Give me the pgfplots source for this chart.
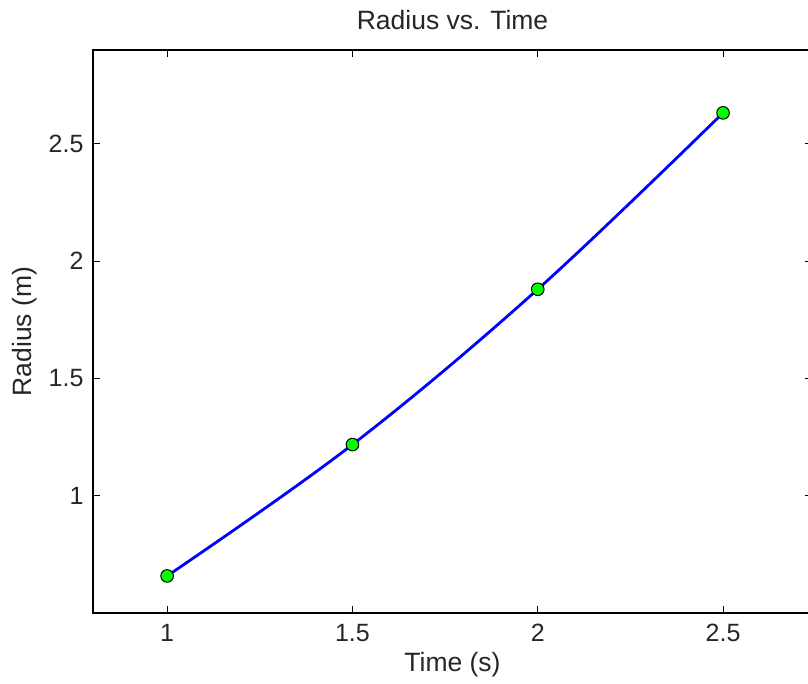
\documentclass[border=0pt]{standalone}
\usepackage{fontspec}
\setmainfont{Liberation Sans}
\usepackage{pgfplots}
\pgfplotsset{compat=1.18}
\begin{document}
\begin{tikzpicture}[x=1pt,y=1pt]
\begin{axis}[
  at={(0,0)}, anchor=south west,
  scale only axis, width=719pt, height=563pt,
  xmin=0.8, xmax=2.74, ymin=0.5, ymax=2.9,
  xtick={1,1.5,2,2.5}, ytick={1,1.5,2,2.5},
  xticklabels={1,1.5,2,2.5}, yticklabels={1,1.5,2,2.5},
  tick align=inside, major tick length=7pt,
  tick style={black, line width=0.9pt},
  axis line style={black, line width=1.2pt},
  ticklabel style={font=\fontsize{25}{28}\selectfont, text=black!85},
  xticklabel style={yshift=-8pt},
  yticklabel style={xshift=-6pt},
  title={Radius vs. Time},
  xlabel={Time (s)}, ylabel={Radius (m)},
  every axis title/.style={at={(axis description cs:0.5,1)}, anchor=center, yshift=30pt, font=\fontsize{26.5}{30}\selectfont, text=black!85},
  every axis x label/.style={at={(axis description cs:0.5,0)}, anchor=center, yshift=-52pt, font=\fontsize{26.5}{30}\selectfont, text=black!85},
  every axis y label/.style={at={(axis description cs:-0.0946,0.5)}, anchor=center, rotate=90, font=\fontsize{26.5}{30}\selectfont, text=black!85},
  clip=false,
]
\addplot[color={rgb,255:red,0;green,0;blue,255}, line width=2.8pt, smooth, tension=0.6,
  mark=*, mark size=6.3pt,
  mark options={fill={rgb,255:red,0;green,255;blue,0}, draw=black, line width=1pt}]
  coordinates {(1,0.658) (1.5,1.218) (2,1.880) (2.5,2.632)};
\end{axis}
\pgfresetboundingbox
\useasboundingbox (-93,-70) rectangle (715,613);
\end{tikzpicture}
\end{document}
